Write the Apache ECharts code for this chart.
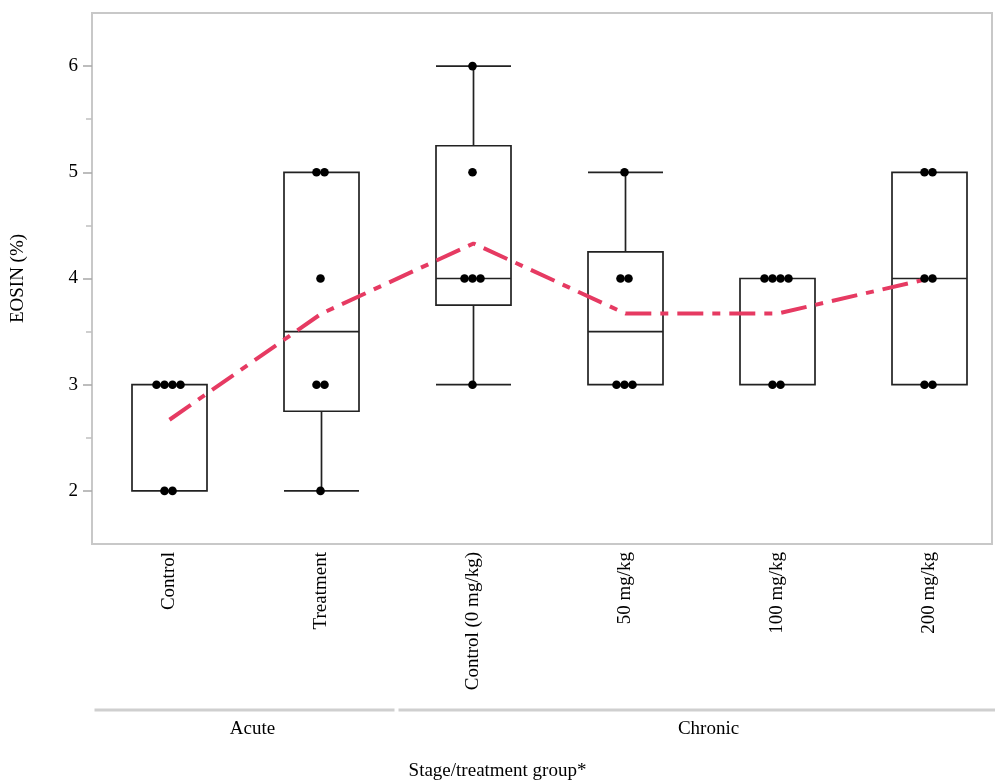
<!DOCTYPE html>
<html>
<head>
<meta charset="utf-8">
<script src="https://cdn.jsdelivr.net/npm/echarts@6/dist/echarts.min.js"></script>
<style>html,body{margin:0;padding:0;background:#fff}#c{width:995px;height:781px}</style>
</head>
<body>
<div id="c"></div>
<script>
// ---- data ----
const categories = ['Control', 'Treatment', 'Control (0 mg/kg)', '50 mg/kg', '100 mg/kg', '200 mg/kg'];
const stageNames = ['Acute', 'Chronic'];
const stageFrom = [0, 2];
const stageTo = [1, 5];
// [min, Q1, median, Q3, max]
const boxControl = [2, 2, 3, 3, 3];
const boxTreatment = [2, 2.75, 3.5, 5, 5];
const boxControl0 = [3, 3.75, 4, 5.25, 6];
const box50 = [3, 3, 3.5, 4.25, 5];
const box100 = [3, 3, 4, 4, 4];
const box200 = [3, 3, 4, 5, 5];
// individual observations
const ptsControl = [3, 3, 3, 3, 2, 2];
const ptsTreatment = [5, 5, 4, 3, 3, 2];
const ptsControl0 = [6, 5, 4, 4, 4, 3];
const pts50 = [5, 4, 4, 3, 3, 3];
const pts100 = [4, 4, 4, 4, 3, 3];
const pts200 = [5, 5, 4, 4, 3, 3];
// group means (dash-dot line)
const means = [2.67, 3.67, 4.33, 3.67, 3.67, 4.0];
const yTicks = [2, 3, 4, 5, 6];
const yMinorTicks = [2.5, 3.5, 4.5, 5.5];

// ---- build options ----
const boxData = [boxControl, boxTreatment, boxControl0, box50, box100, box200];
const ptsAll = [ptsControl, ptsTreatment, ptsControl0, pts50, pts100, pts200];
const dotData = [];
ptsAll.forEach((arr, ci) => {
  const counts = {};
  arr.forEach(v => { counts[v] = (counts[v] || 0) + 1; });
  Object.keys(counts).forEach(v => dotData.push([ci, Number(v), counts[v]]));
});
const stageData = stageNames.map((n, i) => [stageFrom[i], stageTo[i], i]);

const FONT = 'Liberation Serif';
const chart = echarts.init(document.getElementById('c'), null, {renderer: 'canvas'});
const option = {
  backgroundColor: '#fff',
  animation: false,
  title: {
    text: 'Stage/treatment group*', left: 'center', top: 757,
    textStyle: {fontFamily: FONT, fontSize: 19, fontWeight: 'normal', color: '#000'}
  },
  grid: [
    {left: 92, right: 3, top: 13, bottom: 237, show: true, borderColor: '#c8c8c8', borderWidth: 2,
     backgroundColor: 'transparent', outerBoundsMode: 'none', containLabel: false},
    {left: 93.5, width: 912, top: 13, bottom: 237, outerBoundsMode: 'none', containLabel: false}
  ],
  xAxis: [
    {gridIndex: 0, type: 'category', data: categories, show: false},
    {
      gridIndex: 1, type: 'category', data: categories,
      axisLine: {show: false}, axisTick: {show: false},
      axisLabel: {rotate: 90, margin: 8, fontFamily: FONT, fontSize: 19, color: '#000', interval: 0}
    }
  ],
  yAxis: [
    {
      gridIndex: 0, type: 'value', min: 1.5, max: 6.5, position: 'left',
      name: 'EOSIN (%)', nameLocation: 'middle', nameGap: 64,
      nameTextStyle: {fontFamily: FONT, fontSize: 19, color: '#000'},
      axisLine: {show: false}, splitLine: {show: false},
      axisTick: {show: true, length: 9, customValues: yTicks, lineStyle: {color: '#a8a8a8', width: 1.5}},
      axisLabel: {customValues: yTicks, margin: 14, fontFamily: FONT, fontSize: 19, color: '#000'}
    },
    {
      gridIndex: 0, type: 'value', min: 1.5, max: 6.5, position: 'left',
      axisLine: {show: false}, splitLine: {show: false},
      axisTick: {show: true, length: 6, customValues: yMinorTicks, lineStyle: {color: '#c0c0c0', width: 1.5}},
      axisLabel: {show: false}
    },
    {gridIndex: 1, type: 'value', min: 1.5, max: 6.5, show: false}
  ],
  series: [
    {
      type: 'boxplot', xAxisIndex: 1, yAxisIndex: 2, data: boxData,
      boxWidth: [75, 75],
      itemStyle: {color: '#fff', borderColor: '#222', borderWidth: 1.7},
      z: 2
    },
    {
      type: 'line', xAxisIndex: 1, yAxisIndex: 2, data: means,
      symbol: 'none', silent: true,
      lineStyle: {color: '#e63a62', width: 4, type: [26, 9, 8, 9]},
      z: 3
    },
    {
      type: 'custom', xAxisIndex: 1, yAxisIndex: 2, data: dotData, z: 4,
      renderItem: function (params, api) {
        const c = api.coord([api.value(0), api.value(1)]);
        const n = api.value(2);
        const step = 8;
        const children = [];
        for (let k = 0; k < n; k++) {
          children.push({
            type: 'circle',
            shape: {cx: c[0] - 1 + (k - (n - 1) / 2) * step, cy: c[1], r: 4.3},
            style: {fill: '#000'}
          });
        }
        return {type: 'group', children: children};
      }
    },
    {
      type: 'custom', xAxisIndex: 1, yAxisIndex: 2, data: stageData, clip: false, silent: true,
      renderItem: function (params, api) {
        const bw = api.size([1, 0])[0];
        const a = api.coord([api.value(0), 4])[0] - bw / 2 + 1;
        const b = api.coord([api.value(1), 4])[0] + bw / 2 - 3;
        const y = 710;
        return {
          type: 'group',
          children: [
            {type: 'line', shape: {x1: a, y1: y, x2: b, y2: y}, style: {stroke: '#cfcfcf', lineWidth: 3}},
            {type: 'text', x: (a + b) / 2 + 8, y: y + 19,
             style: {text: stageNames[params.dataIndex], fontFamily: FONT, fontSize: 19, fill: '#000', align: 'center', verticalAlign: 'middle'}}
          ]
        };
      }
    }
  ]
};
chart.setOption(option);
</script>
</body>
</html>
